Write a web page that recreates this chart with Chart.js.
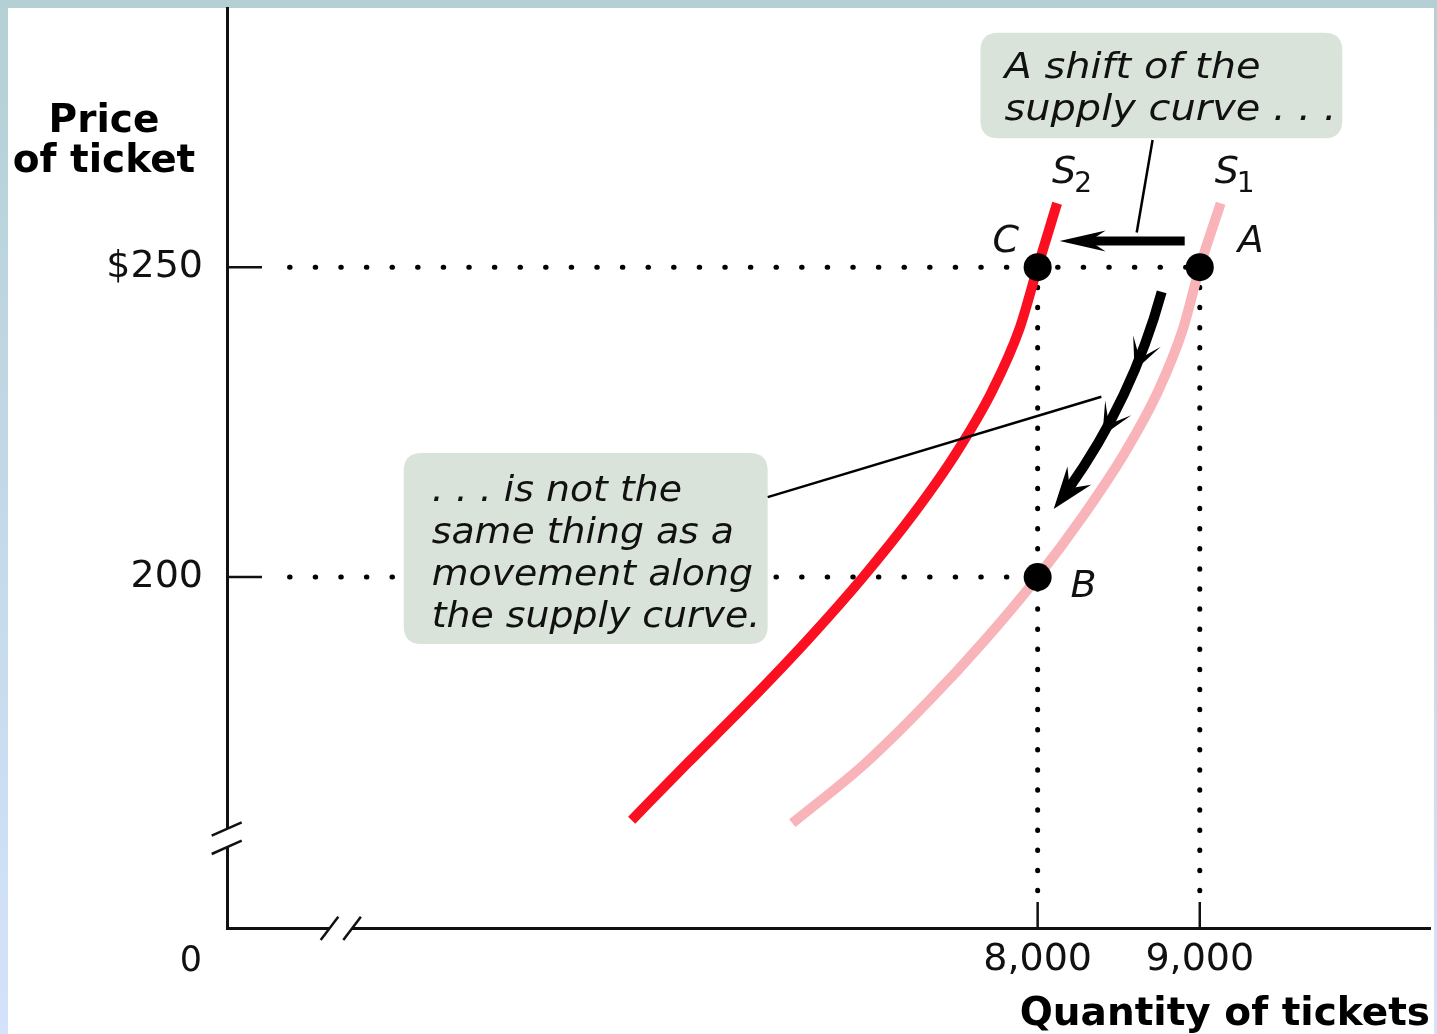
<!DOCTYPE html>
<html>
<head>
<meta charset="utf-8">
<script src="https://cdn.jsdelivr.net/npm/chart.js@4/dist/chart.umd.min.js"></script>
<style>
html,body{margin:0;padding:0;background:#fff;overflow:hidden;}
canvas{display:block;}
</style>
</head>
<body>
<canvas id="c" width="1437" height="1034"></canvas>
<script>
// ---------- data ----------
const s1Quantity = [6487, 6939, 7328, 7680, 8000, 8284, 8536, 8743, 8896, 9000, 9129];
const s1Price    = [160.3, 170, 180, 190, 200, 210, 220, 230, 240, 250, 260.3];
const s2Quantity = [5496, 5841, 6223, 6586, 6923, 7229, 7497, 7719, 7887, 8000, 8120];
const s2Price    = [160.8, 170, 180, 190, 200, 210, 220, 230, 240, 250, 260.3];

const pointNames    = ['A', 'B', 'C'];
const pointQuantity = [9000, 8000, 8000];
const pointPrice    = [250, 200, 250];

const xTickValues = [8000, 9000];
const xTickLabels = ['8,000', '9,000'];
const yTickValues = [200, 250];
const yTickLabels = ['200', '$250'];
const originLabel = '0';

const xTitle = 'Quantity of tickets';
const yTitle = ['Price', 'of ticket'];
const curveNames = ['S', 'S'];
const curveSubs = ['1', '2'];

const shiftNote = ['A shift of the', 'supply curve . . .'];
const moveNote  = ['. . . is not the', 'same thing as a', 'movement along', 'the supply curve.'];

// guide (dotted) lines
const guideStartQuantity = 3386;
const guideEndPrice = 148.7;

// ---------- annotation geometry (data units) ----------
const ann = {
  box1: {x0: 7647, x1: 9879, y0: 287.8, y1: 270.8},
  box2: {x0: 4090, x1: 6335, y0: 220.0, y1: 189.2},
  link1: [[8709, 270.5], [8611, 255.6]],
  link2: [[6335, 212.9], [8393, 229.1]],
  shiftArrow: {tail: [8907, 254.2], tip: [8136, 254.2]},
  moveArrow: {p0: [8765, 246.0], p1: [8564, 226.8], p2: [8099, 211.0]}
};

const FONT = "'DejaVu Sans', sans-serif";
Chart.defaults.font.family = FONT;

function toXY(xs, ys) { return xs.map((v, i) => ({x: v, y: ys[i]})); }

const dotted = {
  borderColor: '#000', borderWidth: 5, borderCapStyle: 'round',
  pointRadius: 0, fill: false, showLine: true, order: 3
};

function stretchText(ctx, text, x, y, sx) {
  ctx.save(); ctx.translate(x, y); ctx.scale(sx, 1); ctx.fillText(text, 0, 0); ctx.restore();
}
function arrowHead(ctx, tx, ty, ang, len, hw, notch) {
  const c = Math.cos(ang), s = Math.sin(ang);
  const bx = tx - len * c, by = ty - len * s;
  ctx.beginPath();
  ctx.moveTo(tx, ty);
  ctx.lineTo(bx - hw * s, by + hw * c);
  ctx.lineTo(tx - notch * c, ty - notch * s);
  ctx.lineTo(bx + hw * s, by - hw * c);
  ctx.closePath();
  ctx.fill();
}
function roundRectPath(ctx, x, y, w, h, r) {
  ctx.beginPath();
  ctx.moveTo(x + r, y);
  ctx.lineTo(x + w - r, y); ctx.quadraticCurveTo(x + w, y, x + w, y + r);
  ctx.lineTo(x + w, y + h - r); ctx.quadraticCurveTo(x + w, y + h, x + w - r, y + h);
  ctx.lineTo(x + r, y + h); ctx.quadraticCurveTo(x, y + h, x, y + h - r);
  ctx.lineTo(x, y + r); ctx.quadraticCurveTo(x, y, x + r, y);
  ctx.closePath();
}
function zeroPad(s) { s.paddingTop = 0; s.paddingBottom = 0; s.paddingLeft = 0; s.paddingRight = 0; }

const decor = {
  id: 'decor',
  beforeDraw(chart) {
    const {ctx, width, height} = chart;
    ctx.save();
    ctx.fillStyle = '#ffffff';
    ctx.fillRect(0, 0, width, height);
    const g = ctx.createLinearGradient(0, 0, 0, height);
    g.addColorStop(0, '#b5d0d4');
    g.addColorStop(1, '#d4e2fb');
    ctx.fillStyle = g;
    ctx.fillRect(0, 0, 8, height);
    ctx.fillRect(width - 3, 0, 3, height);
    ctx.fillStyle = '#b5d0d4';
    ctx.fillRect(0, 0, width, 8);
    ctx.restore();
  },
  afterDraw(chart) {
    const {ctx, chartArea: ca} = chart;
    const xs = chart.scales.x, ys = chart.scales.y;
    const X = v => xs.getPixelForValue(v), Y = v => ys.getPixelForValue(v);
    ctx.save();
    ctx.strokeStyle = '#111'; ctx.fillStyle = '#111'; ctx.lineCap = 'butt';

    // inward tick marks
    ctx.lineWidth = 2.5;
    yTickValues.forEach(v => {
      ctx.beginPath(); ctx.moveTo(ca.left, Y(v)); ctx.lineTo(ca.left + 35, Y(v)); ctx.stroke();
    });
    xTickValues.forEach(v => {
      ctx.beginPath(); ctx.moveTo(X(v), ca.bottom); ctx.lineTo(X(v), ca.bottom - 26); ctx.stroke();
    });

    // axis breaks
    ctx.fillStyle = '#fff';
    ctx.fillRect(ca.left - 4, ca.bottom - 99, 8, 18);
    ctx.fillRect(ca.left + 103, ca.bottom - 4, 22, 8);
    ctx.fillStyle = '#111';
    ctx.lineWidth = 2.5;
    [[ca.bottom - 92.3, ca.bottom - 105.7], [ca.bottom - 74, ca.bottom - 87.3]].forEach(([ya, yb]) => {
      ctx.beginPath(); ctx.moveTo(ca.left - 15.3, ya); ctx.lineTo(ca.left + 14.7, yb); ctx.stroke();
    });
    [ca.left + 93.7, ca.left + 116.3].forEach(xa => {
      ctx.beginPath(); ctx.moveTo(xa, ca.bottom + 12); ctx.lineTo(xa + 17.6, ca.bottom - 11.3); ctx.stroke();
    });

    // origin label
    ctx.font = '35px ' + FONT;
    ctx.textAlign = 'center'; ctx.textBaseline = 'alphabetic';
    ctx.fillText(originLabel, ca.left - 36, ca.bottom + 43);

    // y axis title (horizontal)
    ctx.fillStyle = '#000';
    ctx.font = 'bold 39px ' + FONT;
    ctx.fillText(yTitle[0], 104, 132);
    ctx.fillText(yTitle[1], 104, 172);

    // note boxes
    ctx.fillStyle = '#dae3da';
    [ann.box1, ann.box2].forEach(b => {
      const x0 = X(b.x0), x1 = X(b.x1), y0 = Y(b.y0), y1 = Y(b.y1);
      roundRectPath(ctx, x0, y0, x1 - x0, y1 - y0, 18);
      ctx.fill();
    });
    ctx.fillStyle = '#111';
    ctx.font = 'italic 35px ' + FONT;
    ctx.textAlign = 'left';
    shiftNote.forEach((t, i) => stretchText(ctx, t, X(ann.box1.x0) + 24, Y(ann.box1.y0) + 45.5 + i * 42, 1.14));
    moveNote.forEach((t, i) => stretchText(ctx, t, X(ann.box2.x0) + 28, Y(ann.box2.y0) + 47.5 + i * 42, 1.08));

    // connector lines
    ctx.strokeStyle = '#000'; ctx.lineWidth = 2.5;
    [ann.link1, ann.link2].forEach(l => {
      ctx.beginPath(); ctx.moveTo(X(l[0][0]), Y(l[0][1])); ctx.lineTo(X(l[1][0]), Y(l[1][1])); ctx.stroke();
    });

    // shift arrow
    ctx.fillStyle = '#000';
    const sa = ann.shiftArrow;
    const tx = X(sa.tip[0]), ty = Y(sa.tip[1]), bx = X(sa.tail[0]), by = Y(sa.tail[1]);
    const ang = Math.atan2(ty - by, tx - bx);
    ctx.lineWidth = 9;
    ctx.beginPath(); ctx.moveTo(bx, by); ctx.lineTo(tx - 30 * Math.cos(ang), ty - 30 * Math.sin(ang)); ctx.stroke();
    arrowHead(ctx, tx, ty, ang, 46, 10.5, 30);

    // movement arrow (curved)
    const m = ann.moveArrow;
    const P0 = [X(m.p0[0]), Y(m.p0[1])], P1 = [X(m.p1[0]), Y(m.p1[1])], P2 = [X(m.p2[0]), Y(m.p2[1])];
    const q = t => [(1 - t) * (1 - t) * P0[0] + 2 * (1 - t) * t * P1[0] + t * t * P2[0],
                    (1 - t) * (1 - t) * P0[1] + 2 * (1 - t) * t * P1[1] + t * t * P2[1]];
    const dq = t => [2 * (1 - t) * (P1[0] - P0[0]) + 2 * t * (P2[0] - P1[0]),
                     2 * (1 - t) * (P1[1] - P0[1]) + 2 * t * (P2[1] - P1[1])];
    const tEnd = 0.9;
    const c1 = [P0[0] + (P1[0] - P0[0]) * tEnd, P0[1] + (P1[1] - P0[1]) * tEnd];
    const e1 = q(tEnd);
    ctx.lineWidth = 10;
    ctx.beginPath(); ctx.moveTo(P0[0], P0[1]); ctx.quadraticCurveTo(c1[0], c1[1], e1[0], e1[1]); ctx.stroke();
    [0.34, 0.64].forEach(t => {
      const p = q(t), d = dq(t);
      arrowHead(ctx, p[0], p[1], Math.atan2(d[1], d[0]), 32, 15, 13);
    });
    const dEnd = dq(1);
    arrowHead(ctx, P2[0], P2[1], Math.atan2(dEnd[1], dEnd[0]), 42, 15, 26);

    // point labels
    ctx.fillStyle = '#111';
    ctx.font = 'italic 38px ' + FONT;
    ctx.textAlign = 'center';
    const labelOffsets = {A: [51, -15], B: [46, 20], C: [-32, -15]};
    pointNames.forEach((n, i) => {
      const o = labelOffsets[n];
      ctx.fillText(n, X(pointQuantity[i]) + o[0], Y(pointPrice[i]) + o[1]);
    });

    // curve labels S1, S2 at the top end of each curve
    const tops = [[s1Quantity[s1Quantity.length - 1], s1Price[s1Price.length - 1]],
                  [s2Quantity[s2Quantity.length - 1], s2Price[s2Price.length - 1]]];
    ctx.textAlign = 'left';
    tops.forEach((tp, i) => {
      const px = X(tp[0]) - 6 + (i === 1 ? 1 : 0), py = Y(tp[1]) - 20;
      ctx.font = 'italic 38px ' + FONT;
      ctx.fillText(curveNames[i], px, py);
      const w = ctx.measureText(curveNames[i]).width;
      ctx.font = '28px ' + FONT;
      ctx.fillText(curveSubs[i], px + w - 2, py + 9);
    });
    ctx.restore();
  }
};

new Chart(document.getElementById('c'), {
  type: 'line',
  data: {
    datasets: [
      {
        label: 'points', data: toXY(pointQuantity, pointPrice), showLine: false,
        pointRadius: 14, pointHoverRadius: 14, pointBackgroundColor: '#000',
        pointBorderWidth: 0, borderColor: '#000', order: 1
      },
      {
        label: 'S1', data: toXY(s1Quantity, s1Price), borderColor: '#f8b4b8', borderWidth: 10,
        pointRadius: 0, cubicInterpolationMode: 'monotone', fill: false, order: 2
      },
      {
        label: 'S2', data: toXY(s2Quantity, s2Price), borderColor: '#fa1020', borderWidth: 10,
        pointRadius: 0, cubicInterpolationMode: 'monotone', fill: false, order: 2
      },
      Object.assign({label: 'g250', data: [{x: guideStartQuantity, y: pointPrice[0]}, {x: pointQuantity[0], y: pointPrice[0]}], borderDash: [0.5, 25.1]}, dotted),
      Object.assign({label: 'g200', data: [{x: guideStartQuantity, y: pointPrice[1]}, {x: pointQuantity[1], y: pointPrice[1]}], borderDash: [0.5, 25.1]}, dotted),
      Object.assign({label: 'v8000', data: [{x: pointQuantity[2], y: pointPrice[2]}, {x: pointQuantity[2], y: guideEndPrice}], borderDash: [0.5, 19.6]}, dotted),
      Object.assign({label: 'v9000', data: [{x: pointQuantity[0], y: pointPrice[0]}, {x: pointQuantity[0], y: guideEndPrice}], borderDash: [0.5, 19.6]}, dotted)
    ]
  },
  options: {
    responsive: false,
    animation: false,
    devicePixelRatio: 1,
    events: [],
    layout: {autoPadding: false, padding: {left: 0, top: 8, right: 7, bottom: 0}},
    plugins: {legend: {display: false}, tooltip: {enabled: false}},
    scales: {
      x: {
        type: 'linear', min: 3000, max: 10420,
        afterBuildTicks: s => { s.ticks = xTickValues.map(v => ({value: v})); },
        afterFit: s => { s.height = 106; zeroPad(s); },
        ticks: {
          callback: v => xTickLabels[xTickValues.indexOf(v)],
          font: {size: 38, family: FONT}, color: '#111', padding: 9,
          maxRotation: 0, autoSkip: false
        },
        grid: {display: false, drawTicks: false},
        border: {display: true, color: '#111', width: 3},
        title: {
          display: true, text: xTitle, align: 'end', color: '#000',
          font: {size: 39, weight: 'bold', family: FONT, lineHeight: 1},
          padding: {top: 0, bottom: 0}
        }
      },
      y: {
        type: 'linear', min: 143.4, max: 291.8,
        afterBuildTicks: s => { s.ticks = yTickValues.map(v => ({value: v})); },
        afterFit: s => { s.width = 227; zeroPad(s); },
        ticks: {
          callback: v => yTickLabels[yTickValues.indexOf(v)],
          font: {size: 38, family: FONT}, color: '#111', padding: 24, autoSkip: false
        },
        grid: {display: false, drawTicks: false},
        border: {display: true, color: '#111', width: 3}
      }
    }
  },
  plugins: [decor]
});
</script>
</body>
</html>
